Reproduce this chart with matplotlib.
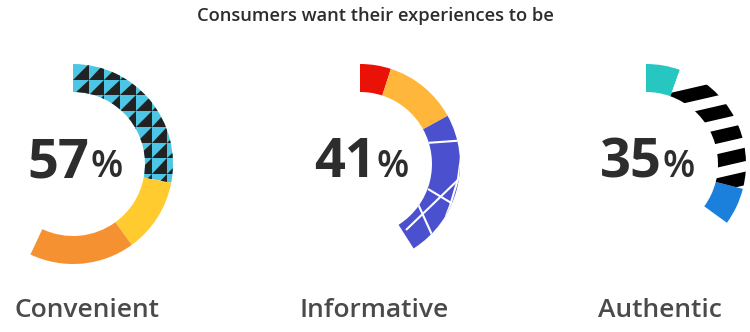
import numpy as np
import matplotlib.pyplot as plt
from matplotlib.patches import Wedge, Polygon
from matplotlib.collections import PatchCollection, LineCollection

plt.rcParams['font.family'] = ['Open Sans', 'DejaVu Sans']

title = "Consumers want their experiences to be"
categories = ["Convenient", "Informative", "Authentic"]
totals = [57, 41, 35]
# segment shares (percent of full circle), clockwise from 12 o'clock
segments = [[28, 12, 17],
            [5, 12, 24],
            [5.5, 23.5, 6]]
fills = [["pattern_tri", "#ffcb2f", "#f69131"],
         ["#ea1206", "#ffb63b", "pattern_crack"],
         ["#27c7c1", "pattern_stripe", "#1a80dc"]]

W, H = 750, 332
centers_x = [73, 360, 646]
center_y = 164
R, ring_w = 100, 28

fig = plt.figure(figsize=(W / 100, H / 100), dpi=100)
ax = fig.add_axes([0, 0, 1, 1])
ax.set_xlim(0, W)
ax.set_ylim(H, 0)
ax.axis('off')


def tri_fill(ax, wedge, cx, cy):
    cell = 15.7
    x0, y0 = cx, cy - R
    tris = []
    for i in range(-1, 8):
        for j in range(-1, 14):
            x = x0 + i * cell
            y = y0 + j * cell
            tris.append(Polygon([(x + cell, y), (x + cell, y + cell), (x, y + cell)]))
    pc = PatchCollection(tris, facecolor="#222222", edgecolor="none", zorder=3)
    ax.add_collection(pc)
    pc.set_clip_path(wedge)


def stripe_fill(ax, wedge, cx, cy):
    slope = np.tan(np.radians(13))
    gap, thick = 24, 13.5
    bx, by = cx + 49, cy - 70
    bands = []
    for k in range(0, 5):
        xa, xb = cx - 20, cx + 140
        ya = by + k * gap - slope * (xa - bx)
        yb = by + k * gap - slope * (xb - bx)
        bands.append(Polygon([(xa, ya - thick / 2), (xb, yb - thick / 2),
                              (xb, yb + thick / 2), (xa, ya + thick / 2)]))
    pc = PatchCollection(bands, facecolor="black", edgecolor="none", zorder=3)
    ax.add_collection(pc)
    pc.set_clip_path(wedge)


def crack_fill(ax, wedge, cx, cy):
    rel = [[(66, -21), (108, -24)],
           [(102, -14), (98, 15), (90, 42), (86, 52)],
           [(68, 25), (93, 40), (100, 44)],
           [(46, 66), (101, 13), (108, 6)],
           [(58, 40), (73, 73), (76, 80)]]
    lines = [[(cx + dx, cy + dy) for dx, dy in seg] for seg in rel]
    lc = LineCollection(lines, colors="white", linewidths=1.5, zorder=3)
    ax.add_collection(lc)
    lc.set_clip_path(wedge)


for cx, segs, cols in zip(centers_x, segments, fills):
    start = 0.0
    for share, col in zip(segs, cols):
        a1 = start * 3.6
        a2 = (start + share) * 3.6
        face = col if not col.startswith("pattern") else {
            "pattern_tri": "#4cc6e4", "pattern_crack": "#4b50cf",
            "pattern_stripe": "white"}[col]
        w = Wedge((cx, center_y), R, a1 - 90, a2 - 90, width=ring_w,
                  facecolor=face, edgecolor="none", zorder=2)
        ax.add_patch(w)
        if col == "pattern_tri":
            tri_fill(ax, w, cx, center_y)
        elif col == "pattern_stripe":
            stripe_fill(ax, w, cx, center_y)
        elif col == "pattern_crack":
            crack_fill(ax, w, cx, center_y)
        start += share

for cx, tot, lab in zip(centers_x, totals, categories):
    ax.text(cx + 16, 177, str(tot), ha='right', va='baseline', fontsize=39,
            fontweight='bold', color="#2d2d2d")
    ax.text(cx + 17, 177, "%", ha='left', va='baseline', fontsize=27,
            fontweight='semibold', color="#2d2d2d")
    ax.text(cx + 14, 317, lab, ha='center', va='baseline', fontsize=19,
            fontweight='semibold', color="#4a4a4a")

ax.text(W / 2, 21, title, ha='center', va='baseline', fontsize=13.2,
        fontweight='semibold', color="#2d2d2d")

fig.savefig("out.png", dpi=100)
